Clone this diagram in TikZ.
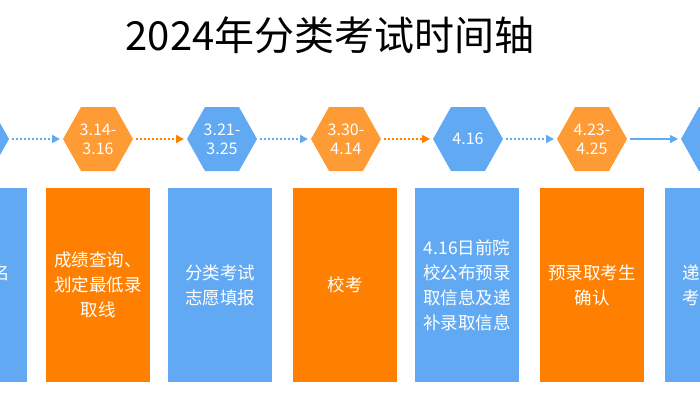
\documentclass[tikz,border=0pt]{standalone}
\usepackage{fontspec}
\setmainfont{Noto Sans CJK SC}
\usetikzlibrary{arrows.meta}
\definecolor{bl}{HTML}{62A9F4}
\definecolor{orb}{HTML}{FF8000}
\definecolor{orh}{HTML}{FF9B35}
\tikzset{
  boxn/.style={minimum width=104pt,minimum height=194pt,inner sep=0pt,anchor=north,text=white,font=\fontsize{17.5}{25}\selectfont,align=center},
  hext/.style={text=white,font=\fontsize{16}{19}\selectfont,align=center},
  dotar/.style={line width=1.6pt,dash pattern=on 1.6pt off 2.4pt,-{Triangle[length=8pt,width=8pt]}},
  solar/.style={line width=1.2pt,-{Triangle[length=8pt,width=8pt]}}
}
\newcommand{\hexa}[4]{% name, x, color, text
  \fill[#3] (#2pt-35pt,-139pt) -- (#2pt-17pt,-107pt) -- (#2pt+17pt,-107pt) -- (#2pt+35pt,-139pt) -- (#2pt+17pt,-171pt) -- (#2pt-17pt,-171pt) -- cycle;
  \node[hext] (#1) at (#2pt,-139pt) {#4};
  \coordinate (#1L) at (#2pt-38pt,-139pt);
  \coordinate (#1R) at (#2pt+38pt,-139pt);
}
\begin{document}
\begin{tikzpicture}[x=1pt,y=1pt]
\useasboundingbox (0,0) rectangle (700,-400);
\node[font=\fontsize{40}{46}\selectfont] (title) at (330,-35) {2024年分类考试时间轴};
\hexa{h0}{-26}{bl}{}
\hexa{h1}{98}{orh}{3.14-\\3.16}
\hexa{h2}{222}{bl}{3.21-\\3.25}
\hexa{h3}{346}{orh}{3.30-\\4.14}
\hexa{h4}{468}{bl}{4.16}
\hexa{h5}{592}{orh}{4.23-\\4.25}
\hexa{h6}{716}{bl}{}
\draw[dotar,bl] (h0R) -- (h1L);
\draw[dotar,orb] (h1R) -- (h2L);
\draw[dotar,bl] (h2R) -- (h3L);
\draw[dotar,orb] (h3R) -- (h4L);
\draw[dotar,bl] (h4R) -- (h5L);
\draw[solar,bl] (h5R) -- (h6L);
\node[boxn,fill=bl] (b0) at (-25,-188) {网上报名\\缴费};
\node[boxn,fill=orb] (b1) at (98,-188) {成绩查询、\\划定最低录\\取线};
\node[boxn,fill=bl] (b2) at (220,-188) {分类考试\\志愿填报};
\node[boxn,fill=orb] (b3) at (345,-188) {校考};
\node[boxn,fill=bl] (b4) at (467,-188) {4.16日前院\\校公布预录\\取信息及递\\补录取信息};
\node[boxn,fill=orb] (b5) at (592,-188) {预录取考生\\确认};
\node[boxn,fill=bl] (b6) at (717,-188) {递补录取\\考生确认};
\end{tikzpicture}
\end{document}
